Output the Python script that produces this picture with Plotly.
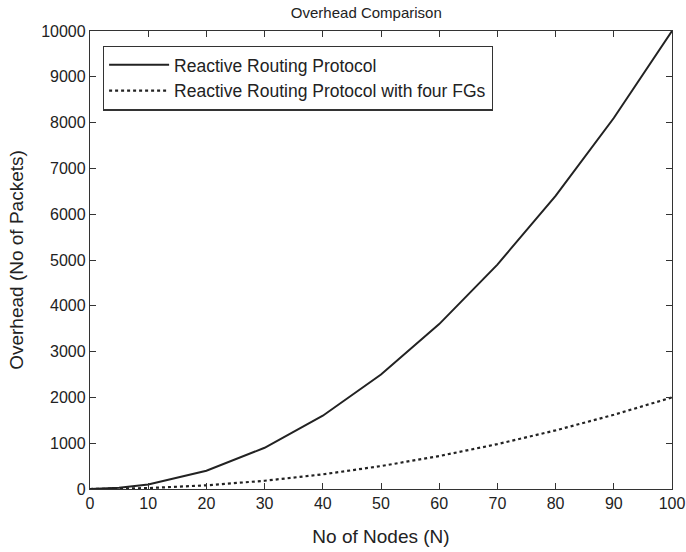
import plotly.graph_objects as go

nodes = [0, 2, 5, 10, 20, 30, 40, 50, 60, 70, 80, 90, 100]
overhead_reactive = [0, 4, 25, 100, 400, 900, 1600, 2500, 3600, 4900, 6400, 8100, 10000]
overhead_fg = [0, 0.8, 5, 20, 80, 180, 320, 500, 720, 980, 1280, 1620, 2000]
x_ticks = [0, 10, 20, 30, 40, 50, 60, 70, 80, 90, 100]
y_ticks = [0, 1000, 2000, 3000, 4000, 5000, 6000, 7000, 8000, 9000, 10000]
y_tick_labels = [str(v) for v in y_ticks]

FONT = "Liberation Sans, Arial"
INK = "#222222"

fig = go.Figure()
fig.add_trace(go.Scatter(x=nodes, y=overhead_reactive, mode="lines",
                         name="Reactive Routing Protocol",
                         line=dict(color=INK, width=2)))
fig.add_trace(go.Scatter(x=nodes, y=overhead_fg, mode="lines",
                         name="Reactive Routing Protocol with four FGs",
                         line=dict(color=INK, width=2.2, dash="dot")))

axis_common = dict(showline=True, linecolor="#333333", linewidth=1.3, mirror="ticks",
                   ticks="inside", ticklen=6, tickcolor="#333333", tickwidth=1.2,
                   showgrid=False, zeroline=False, automargin=False,
                   tickfont=dict(family=FONT, size=16, color=INK))

fig.update_layout(
    width=686, height=552,
    margin=dict(l=90, r=14, t=31, b=63),
    paper_bgcolor="white", plot_bgcolor="white",
    title=dict(text="Overhead Comparison", x=0.534, xanchor="center", y=0.976, yanchor="middle",
               font=dict(family=FONT, size=15, color=INK)),
    xaxis=dict(range=[0, 100], tickvals=x_ticks, **axis_common,
               title=dict(text="No of Nodes (N)", standoff=18,
                          font=dict(family=FONT, size=19, color=INK))),
    yaxis=dict(range=[0, 10000], tickvals=y_ticks, ticktext=y_tick_labels, **axis_common,
               title=dict(text="Overhead (No of Packets)", standoff=12,
                          font=dict(family=FONT, size=19, color=INK))),
    legend=dict(x=0.022, y=0.968, xanchor="left", yanchor="top",
                bgcolor="white", bordercolor="#333333", borderwidth=1.3,
                font=dict(family=FONT, size=17.5, color=INK),
                tracegroupgap=0, itemwidth=60),
    showlegend=True,
)

fig.write_html("out.html", config={"displayModeBar": False},
               post_script="document.body.style.margin='0';")
